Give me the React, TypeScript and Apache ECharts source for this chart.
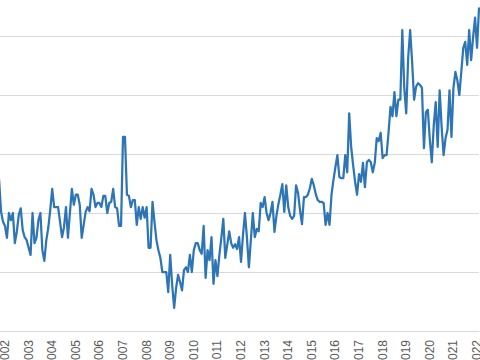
import { useEffect, useRef } from "react";
import * as echarts from "echarts";

// Monthly series, first value = July 2001, last value = February 2022
const startYear = 2001;
const startMonth = 7;

const values2001 = [23.9, 21.4, 23.1, 25.6, 20.2, 18.5];
const values2002 = [17.8, 15.8, 20.0, 18.8, 20.0, 14.9, 16.8, 19.7, 20.8, 17.1, 15.9, 15.4];
const values2003 = [14.1, 12.9, 20.0, 14.9, 15.8, 18.8, 20.0, 13.7, 11.9, 15.4, 17.5, 20.5];
const values2004 = [24.1, 21.0, 21.0, 21.0, 18.5, 15.9, 17.6, 21.0, 15.8, 20.0, 24.1, 21.4];
const values2005 = [23.1, 23.1, 21.4, 15.8, 18.0, 20.2, 21.0, 20.3, 24.1, 23.1, 21.0, 21.7];
const values2006 = [21.7, 21.0, 22.9, 22.9, 20.0, 21.7, 21.9, 24.1, 21.0, 20.8, 17.8, 17.8];
const values2007 = [32.9, 32.9, 23.1, 22.9, 21.0, 22.2, 22.2, 18.0, 21.0, 19.0, 21.0, 19.2];
const values2008 = [21.0, 14.1, 14.1, 21.9, 18.5, 15.4, 13.7, 12.4, 10.0, 10.0, 10.0, 6.6];
const values2009 = [12.9, 7.8, 3.9, 7.3, 9.5, 8.3, 6.9, 10.3, 10.8, 10.0, 12.9, 10.0];
const values2010 = [13.7, 14.9, 14.9, 13.7, 13.1, 17.8, 9.0, 13.7, 12.0, 15.9, 8.0, 12.0];
const values2011 = [9.3, 12.9, 15.8, 19.0, 12.4, 14.6, 16.9, 14.9, 14.1, 14.7, 13.9, 15.9];
const values2012 = [11.7, 16.3, 20.0, 15.9, 10.8, 15.4, 20.0, 15.9, 17.3, 16.9, 21.7, 21.0];
const values2013 = [22.7, 20.0, 18.8, 20.0, 21.9, 16.8, 19.5, 21.5, 23.1, 24.9, 20.2, 24.7];
const values2014 = [21.0, 19.5, 19.0, 19.5, 24.7, 23.4, 20.5, 18.1, 22.7, 22.7, 23.1, 24.2];
const values2015 = [25.8, 24.7, 23.2, 22.2, 21.9, 21.9, 21.7, 18.0, 20.0, 18.0, 23.1, 25.6];
const values2016 = [27.8, 29.8, 26.1, 25.9, 25.9, 29.8, 26.9, 36.9, 31.2, 28.1, 25.3, 23.1];
const values2017 = [26.6, 25.3, 28.5, 24.4, 28.6, 29.0, 28.6, 26.9, 28.5, 32.7, 32.2, 33.6];
const values2018 = [29.3, 29.8, 29.8, 33.6, 38.0, 36.4, 40.5, 36.4, 39.2, 39.2, 51.0, 41.2];
const values2019 = [36.9, 46.4, 51.0, 45.6, 39.2, 41.4, 42.0, 41.7, 41.2, 31.0, 37.1, 37.5];
const values2020 = [32.4, 28.6, 34.9, 38.8, 31.2, 40.8, 34.6, 29.8, 32.7, 34.1, 40.8, 32.9];
const values2021 = [41.2, 43.9, 42.5, 40.0, 43.9, 48.0, 49.0, 45.1, 51.0, 45.9, 49.8, 53.1];
const values2022 = [48.0, 54.7];

const monthlyValues = [
  ...values2001, ...values2002, ...values2003, ...values2004, ...values2005,
  ...values2006, ...values2007, ...values2008, ...values2009, ...values2010,
  ...values2011, ...values2012, ...values2013, ...values2014, ...values2015,
  ...values2016, ...values2017, ...values2018, ...values2019, ...values2020,
  ...values2021, ...values2022,
];

const categories = monthlyValues.map((_, i) => {
  const m = startMonth - 1 + i;
  const y = startYear + Math.floor(m / 12);
  const mm = (m % 12) + 1;
  return `${y}-${String(mm).padStart(2, "0")}`;
});

export default function App() {
  const ref = useRef<HTMLDivElement>(null);
  useEffect(() => {
    if (!ref.current) return;
    const chart = echarts.init(ref.current, null, { renderer: "svg" });
    chart.setOption({
      animation: false,
      backgroundColor: "#ffffff",
      grid: {
        left: -6.8,
        right: 1,
        top: -23,
        bottom: 29,
        containLabel: false,
        outerBoundsMode: "none",
      },
      xAxis: {
        type: "category",
        data: categories,
        boundaryGap: false,
        axisLine: { lineStyle: { color: "#d9d9d9", width: 1 } },
        axisTick: { show: false },
        splitLine: { show: false },
        axisLabel: {
          interval: (_idx: number, val: string) => val.endsWith("-01"),
          formatter: (v: string) => v.slice(0, 4),
          rotate: 90,
          margin: 9,
          color: "#595959",
          fontSize: 12,
          fontFamily: "Liberation Sans, Arial, sans-serif",
        },
      },
      yAxis: {
        type: "value",
        min: 0,
        max: 60,
        interval: 10,
        axisLabel: { show: false },
        axisLine: { show: false },
        axisTick: { show: false },
        splitLine: { lineStyle: { color: "#d9d9d9", width: 1 } },
      },
      series: [
        {
          type: "line",
          data: monthlyValues,
          showSymbol: false,
          lineStyle: { color: "#2e75b6", width: 2.25, join: "round", cap: "round" },
          itemStyle: { color: "#2e75b6" },
        },
      ],
    });
    return () => chart.dispose();
  }, []);
  return (
    <div
      ref={ref}
      style={{ position: "fixed", left: 0, top: 0, width: 480, height: 360 }}
    />
  );
}
